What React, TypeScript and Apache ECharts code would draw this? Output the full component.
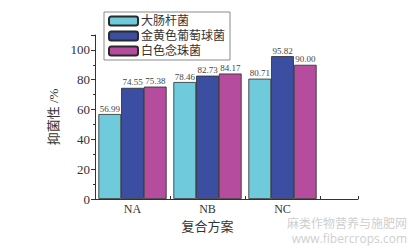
import React, { useEffect, useRef } from "react";
import * as echarts from "echarts";

const categories = ["NA", "NB", "NC"];
const seriesNames = ["大肠杆菌", "金黄色葡萄球菌", "白色念珠菌"];
const ecoli = [56.99, 78.46, 80.71];
const saureus = [74.55, 82.73, 95.82];
const calbicans = [75.38, 84.17, 90.0];
const colors = ["#6fcbdc", "#3c4ea1", "#b54c9e"];

const serif = "Liberation Serif, 'Noto Sans CJK SC', serif";

export default function App() {
  const ref = useRef<HTMLDivElement>(null);
  useEffect(() => {
    if (!ref.current) return;
    const chart = echarts.init(ref.current, undefined, { renderer: "svg" });
    const values = [ecoli, saureus, calbicans];
    chart.setOption({
      animation: false,
      backgroundColor: "#ffffff",
      textStyle: { fontFamily: serif },
      legend: {
        orient: "vertical",
        left: 104,
        top: 12,
        padding: [3, 5, 3, 4],
        itemWidth: 29,
        itemHeight: 9,
        itemGap: 3,
        borderColor: "#8a8a8a",
        borderWidth: 1,
        textStyle: { fontSize: 12, color: "#333", fontFamily: serif, lineHeight: 12, padding: [0, 0, 0, -2] },
        data: seriesNames,
      },
      grid: [
        { left: 95, top: 35, width: 225, height: 164 },
        { left: 95, top: 35, width: 263, height: 164 },
      ],
      xAxis: [
        {
          type: "category",
          gridIndex: 0,
          data: categories,
          axisLine: { show: false },
          axisTick: { show: false },
          axisLabel: { fontSize: 12, color: "#333", margin: 4, fontFamily: serif },
          name: "复合方案",
          nameLocation: "middle",
          nameGap: 21,
          nameTextStyle: { fontSize: 13, color: "#333", fontFamily: serif },
        },
        {
          type: "value",
          gridIndex: 1,
          min: 0,
          max: 3.5,
          interval: 1,
          axisLine: { show: true, lineStyle: { color: "#333", width: 1 } },
          axisTick: { show: true, inside: true, length: 3, lineStyle: { color: "#333" } },
          axisLabel: { show: false },
          splitLine: { show: false },
        },
      ],
      yAxis: [
        {
          type: "value",
          gridIndex: 0,
          min: 0,
          max: 110,
          interval: 20,
          axisLine: { show: true, lineStyle: { color: "#333", width: 1 } },
          axisTick: { show: true, length: 4, lineStyle: { color: "#333" } },
          minorTick: { show: true, splitNumber: 2, length: 2, lineStyle: { color: "#333" } },
          axisLabel: { fontSize: 13, color: "#333", margin: 5, showMaxLabel: false, fontFamily: serif },
          splitLine: { show: false },
          name: "抑菌性 /%",
          nameLocation: "middle",
          nameGap: 22,
          nameRotate: 90,
          nameTextStyle: { fontSize: 13, color: "#333", fontFamily: serif },
        },
        {
          type: "value",
          gridIndex: 1,
          min: 0,
          max: 110,
          show: false,
        },
      ],
      series: seriesNames.map((name, i) => ({
        name,
        type: "bar",
        xAxisIndex: 0,
        yAxisIndex: 0,
        data: values[i],
        barGap: "0%",
        barCategoryGap: "9%",
        itemStyle: { color: colors[i], borderColor: "#2a2a2a", borderWidth: 0.8 },
        label: {
          show: true,
          position: "top",
          distance: 1,
          fontSize: 9,
          color: "#444",
          fontFamily: serif,
          formatter: (p: any) => p.value.toFixed(2),
        },
      })),
      graphic: [
        {
          type: "text",
          right: 6,
          top: 216,
          style: {
            text: "麻类作物营养与施肥网",
            fill: "#cfcfcf",
            font: "12px 'Noto Sans CJK SC', sans-serif",
          },
        },
        {
          type: "text",
          right: 6,
          top: 232,
          style: {
            text: "www.fibercrops.com",
            fill: "#cfcfcf",
            font: "12px 'Open Sans', sans-serif",
          },
        },
      ],
    });
    return () => chart.dispose();
  }, []);
  return <div ref={ref} style={{ width: 413, height: 246, position: "absolute", left: 0, top: 0 }} />;
}
